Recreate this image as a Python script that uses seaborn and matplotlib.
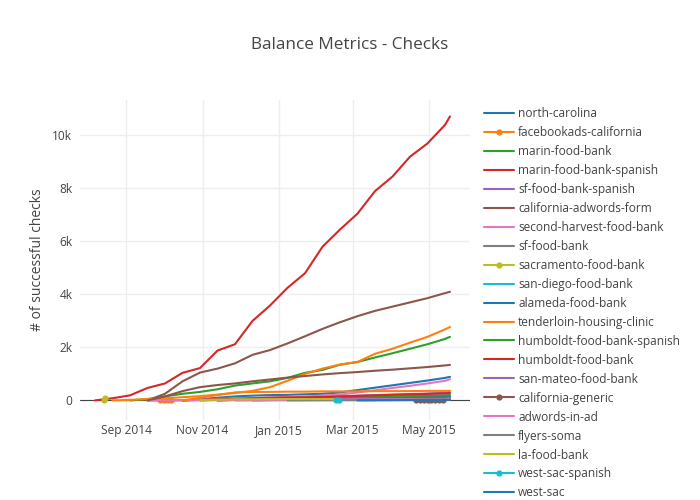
import pandas as pd
import matplotlib.pyplot as plt
from matplotlib.ticker import FuncFormatter
import matplotlib.dates as mdates
import seaborn as sns

# Common two-weekly date grid
dates = ["2014-08-07", "2014-08-21", "2014-09-04", "2014-09-18", "2014-10-02",
         "2014-10-16", "2014-10-30", "2014-11-13", "2014-11-27", "2014-12-11",
         "2014-12-25", "2015-01-08", "2015-01-22", "2015-02-05", "2015-02-19",
         "2015-03-05", "2015-03-19", "2015-04-02", "2015-04-16", "2015-04-30",
         "2015-05-14", "2015-05-18"]
N = None

north_carolina = [N, N, N, N, N, 0, 40, 100, 150, 180, 200, 210, 230, 250, 300, 390, 480, 570, 660, 750, 850, 890]
marin_food_bank = [N, N, 0, 50, 150, 250, 320, 420, 560, 640, 720, 850, 1040, 1150, 1350, 1450, 1620, 1780, 1950, 2120, 2320, 2400]
marin_food_bank_spanish = [0, 80, 190, 470, 640, 1040, 1220, 1880, 2120, 3000, 3580, 4250, 4800, 5800, 6450, 7050, 7900, 8450, 9200, 9700, 10400, 10720]
sf_food_bank_spanish = [N, N, N, N, N, N, 0, 20, 40, 60, 80, 100, 120, 140, 160, 180, 200, 220, 240, 260, 290, 310]
california_adwords_form = [N, N, N, 0, 250, 720, 1050, 1200, 1400, 1720, 1900, 2150, 2420, 2700, 2950, 3180, 3380, 3540, 3700, 3860, 4050, 4100]
second_harvest_food_bank = [N, N, N, N, 0, 10, 30, 50, 70, 90, 110, 130, 150, 180, 220, 300, 380, 470, 550, 640, 740, 800]
sf_food_bank = [N, N, N, 0, 5, 10, 15, 20, 25, 30, 35, 40, 45, 50, 55, 60, 65, 70, 75, 80, 90, 95]
san_diego_food_bank = [N, N, N, N, N, N, N, N, 0, 5, 8, 10, 12, 14, 15, 17, 19, 21, 23, 25, 28, 30]
alameda_food_bank = [N, N, N, N, N, N, N, 0, 20, 40, 60, 75, 85, 95, 105, 110, 115, 120, 125, 130, 140, 145]
tenderloin_housing_clinic = [N, 0, 20, 50, 80, 120, 160, 220, 280, 360, 500, 740, 1000, 1200, 1350, 1450, 1760, 1950, 2180, 2400, 2680, 2770]
humboldt_food_bank_spanish = [N, N, N, N, N, N, N, 0, 20, 40, 55, 70, 85, 100, 110, 120, 135, 150, 165, 180, 195, 200]
humboldt_food_bank = [N, N, N, N, N, 0, 20, 40, 60, 80, 100, 110, 120, 130, 150, 170, 190, 210, 230, 245, 265, 275]
san_mateo_food_bank = [N, N, N, N, N, N, N, N, N, 0, 10, 20, 25, 30, 35, 40, 45, 50, 55, 60, 70, 80]
adwords_in_ad = [N, N, N, 0, 5, 8, 10, 12, 14, 16, 18, 20, 22, 24, 26, 28, 30, 32, 34, 36, 38, 40]
flyers_soma = [N, N, N, N, N, N, N, N, N, N, N, 0, 3, 5, 7, 9, 11, 13, 15, 17, 19, 20]
la_food_bank = [N, N, N, N, N, N, 0, 30, 40, 45, 48, 50, 50, 50, 50, N, N, N, N, N, N, N]
west_sac = [N, N, N, N, N, N, N, N, N, N, N, N, N, N, N, 0, 4, 8, 12, 15, 18, 20]

# legend is cut off in the reference: two more traces whose names are not visible
extra_orange = [N, N, N, N, N, 0, 100, 200, 300, 320, 320, 330, 330, 340, 340, 340, 350, 350, 350, 360, 360, 360]
extra_brown = [N, N, N, 0, 150, 350, 500, 580, 640, 720, 790, 860, 920, 980, 1030, 1070, 1120, 1160, 1210, 1260, 1320, 1340]

# short traces drawn with markers
facebookads_dates = ["2014-09-28", "2014-10-01", "2014-10-04", "2014-10-07"]
facebookads_california = [0, 0, 0, 0]
sacramento_dates = ["2014-08-14", "2014-08-15"]
sacramento_food_bank = [0, 90]
west_sac_spanish_dates = ["2015-02-16", "2015-02-18"]
west_sac_spanish = [0, 0]
generic_dates = ["2015-04-21", "2015-04-24", "2015-04-27", "2015-04-30", "2015-05-03",
                 "2015-05-06", "2015-05-09", "2015-05-12"]
california_generic = [0, 0, 0, 0, 0, 0, 0, 0]

pal = sns.color_palette("tab10")

series = [
    ("north-carolina", dates, north_carolina, False),
    ("facebookads-california", facebookads_dates, facebookads_california, True),
    ("marin-food-bank", dates, marin_food_bank, False),
    ("marin-food-bank-spanish", dates, marin_food_bank_spanish, False),
    ("sf-food-bank-spanish", dates, sf_food_bank_spanish, False),
    ("california-adwords-form", dates, california_adwords_form, False),
    ("second-harvest-food-bank", dates, second_harvest_food_bank, False),
    ("sf-food-bank", dates, sf_food_bank, False),
    ("sacramento-food-bank", sacramento_dates, sacramento_food_bank, True),
    ("san-diego-food-bank", dates, san_diego_food_bank, False),
    ("alameda-food-bank", dates, alameda_food_bank, False),
    ("tenderloin-housing-clinic", dates, tenderloin_housing_clinic, False),
    ("humboldt-food-bank-spanish", dates, humboldt_food_bank_spanish, False),
    ("humboldt-food-bank", dates, humboldt_food_bank, False),
    ("san-mateo-food-bank", dates, san_mateo_food_bank, False),
    ("california-generic", generic_dates, california_generic, True),
    ("adwords-in-ad", dates, adwords_in_ad, False),
    ("flyers-soma", dates, flyers_soma, False),
    ("la-food-bank", dates, la_food_bank, False),
    ("west-sac-spanish", west_sac_spanish_dates, west_sac_spanish, True),
    ("west-sac", dates, west_sac, False),
    ("_extra_orange", dates, extra_orange, False),
    ("_extra_brown", dates, extra_brown, False),
]
extra_colors = {"_extra_orange": pal[1], "_extra_brown": pal[5]}

sns.set_style("white")
plt.rcParams["font.family"] = ["Open Sans", "DejaVu Sans"]

fig = plt.figure(figsize=(7, 5), dpi=100)
ax = fig.add_axes([80 / 700, 80 / 500, 390 / 700, 320 / 500])

ax.axhline(0, color="#444444", lw=0.8, zorder=1)

for i, (name, d, vals, with_markers) in enumerate(series):
    df = pd.DataFrame({"date": pd.to_datetime(d), "checks": vals}).dropna()
    color = extra_colors.get(name, pal[i % 10])
    sns.lineplot(data=df, x="date", y="checks", ax=ax, color=color, lw=1.5,
                 label=name, estimator=None, errorbar=None,
                 marker="o" if with_markers else None, markersize=4.5,
                 markeredgewidth=0)

ax.set_xlim(pd.Timestamp("2014-07-26"), pd.Timestamp("2015-06-03"))
ax.set_ylim(-740, 11340)
ax.set_yticks([0, 2000, 4000, 6000, 8000, 10000])
ax.yaxis.set_major_formatter(FuncFormatter(lambda v, p: "0" if v == 0 else f"{int(v / 1000)}k"))
ax.xaxis.set_major_locator(mdates.MonthLocator(bymonth=[1, 3, 5, 7, 9, 11]))
ax.xaxis.set_major_formatter(mdates.DateFormatter("%b %Y"))

ax.grid(color="#eeeeee", lw=1)
ax.set_axisbelow(True)
sns.despine(ax=ax, left=True, bottom=True)
ax.tick_params(length=0, labelsize=8.6, labelcolor="#444444")
ax.tick_params(axis="y", pad=5.5)
ax.tick_params(axis="x", pad=3)

ax.set_xlabel("")
ax.set_ylabel("# of successful checks", fontsize=10, color="#444444")
ax.yaxis.set_label_coords(-0.09, 0.5)

fig.text(0.5, 1 - 45 / 500, "Balance Metrics - Checks", ha="center", va="center",
         fontsize=12.3, color="#444444")

handles, labels = ax.get_legend_handles_labels()
ax.legend(handles, labels, loc="upper left", bbox_to_anchor=(484 / 700, 1 - 107 / 500),
          bbox_transform=fig.transFigure, frameon=False, fontsize=8.6,
          labelcolor="#444444", handlelength=2.5, handletextpad=0.35,
          labelspacing=0.5, borderpad=0, borderaxespad=0)

fig.savefig("out.png", dpi=100)
